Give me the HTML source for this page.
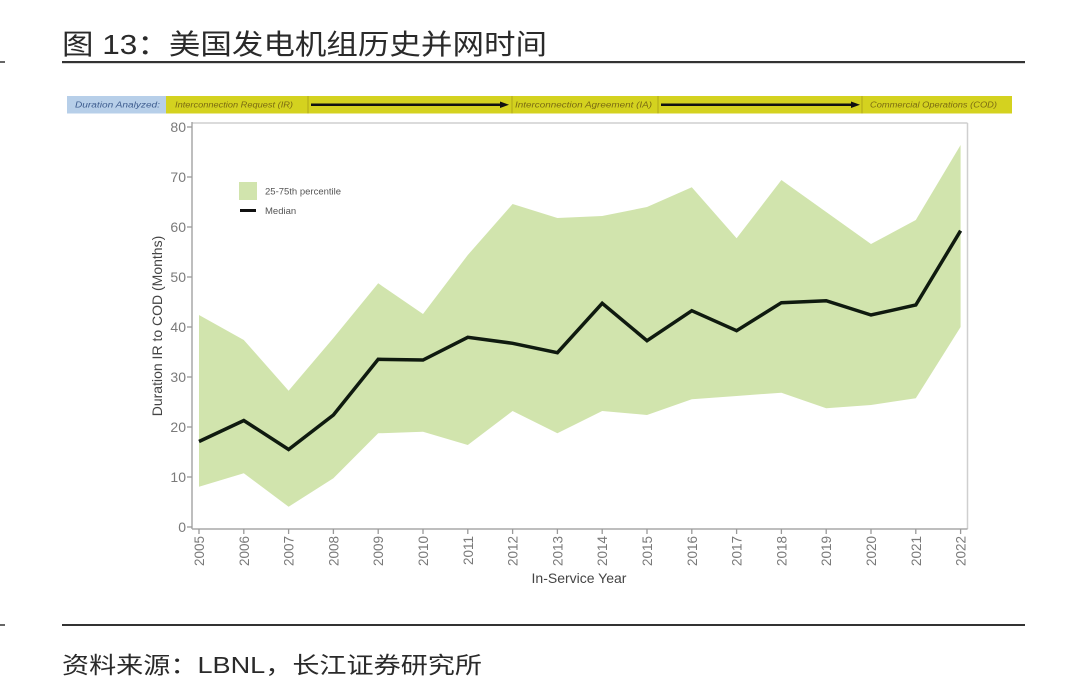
<!DOCTYPE html>
<html><head><meta charset="utf-8"><style>
html,body{margin:0;padding:0;background:#fff;}
svg{display:block;}
</style></head><body>
<svg width="1080" height="697" viewBox="0 0 1080 697" xmlns="http://www.w3.org/2000/svg">
<rect width="1080" height="697" fill="#fff"/>
<!-- header -->
<text x="62" y="54" font-family="Liberation Sans, Noto Sans CJK SC, sans-serif" font-size="28" fill="#2a2a2a" textLength="485" lengthAdjust="spacingAndGlyphs">图 13：美国发电机组历史并网时间</text>
<rect x="62" y="61" width="963" height="2.2" fill="#333"/>
<rect x="0" y="61" width="5" height="2" fill="#666"/>
<!-- banner -->
<rect x="67" y="96" width="99" height="17.5" fill="#b7cfe9"/>
<rect x="166" y="96" width="846" height="17.5" fill="#d4d21f"/>
<g stroke="#b0a818" stroke-width="1">
<line x1="308" y1="96" x2="308" y2="113.5"/>
<line x1="512" y1="96" x2="512" y2="113.5"/>
<line x1="658" y1="96" x2="658" y2="113.5"/>
<line x1="862" y1="96" x2="862" y2="113.5"/>
</g>
<g font-family="Liberation Sans, sans-serif" font-size="8.5" font-style="italic">
<text x="75" y="107.5" fill="#3d5c8e" textLength="85" lengthAdjust="spacingAndGlyphs">Duration Analyzed:</text>
<text x="175" y="107.5" fill="#7a6a12" textLength="118" lengthAdjust="spacingAndGlyphs">Interconnection Request (IR)</text>
<text x="515" y="107.5" fill="#7a6a12" textLength="137" lengthAdjust="spacingAndGlyphs">Interconnection Agreement (IA)</text>
<text x="870" y="107.5" fill="#7a6a12" textLength="127" lengthAdjust="spacingAndGlyphs">Commercial Operations (COD)</text>
</g>
<g stroke="#111" stroke-width="2.5">
<line x1="311" y1="104.8" x2="502" y2="104.8"/>
<line x1="661" y1="104.8" x2="853" y2="104.8"/>
</g>
<polygon points="500,101.5 509,104.8 500,108" fill="#111"/>
<polygon points="851,101.5 860,104.8 851,108" fill="#111"/>
<!-- plot border -->
<line x1="192" y1="123" x2="967.5" y2="123" stroke="#cfcfcf" stroke-width="1.5"/>
<line x1="967.5" y1="123" x2="967.5" y2="529" stroke="#cfcfcf" stroke-width="1.5"/>
<!-- band -->
<polygon fill="#d1e4ad" points="199,315 243.8,340 288.6,390.7 333.4,338 378.2,283.3 423,314 467.8,255 512.6,204 557.4,218 602.2,216 647,207 691.8,187.3 736.6,238.3 781.4,180 826.2,212 871,244 915.8,220 960.6,145 960.6,327 915.8,398.3 871,405 826.2,408.3 781.4,392.7 736.6,396 691.8,399.3 647,415 602.2,411 557.4,433.3 512.6,411 467.8,445 423,431.7 378.2,433.3 333.4,478.3 288.6,506.7 243.8,473.3 199,486.7"/>
<!-- median -->
<polyline fill="none" stroke="#0f1a0f" stroke-width="3.5" stroke-linejoin="miter" points="199,441.5 243.8,420.5 288.6,449.5 333.4,415 378.2,359.3 423,360 467.8,337.3 512.6,343.3 557.4,352.7 602.2,303.3 647,340.7 691.8,310.7 736.6,330.7 781.4,302.7 826.2,300.7 871,315 915.8,305 960.6,230.7"/>
<!-- axes -->
<line x1="192" y1="122" x2="192" y2="529" stroke="#a8a8a8" stroke-width="1.5"/>
<line x1="192" y1="529" x2="967.5" y2="529" stroke="#a8a8a8" stroke-width="1.5"/>
<g stroke="#999" stroke-width="1.3">
<line x1="187" y1="127" x2="192" y2="127"/>
<line x1="187" y1="177" x2="192" y2="177"/>
<line x1="187" y1="227" x2="192" y2="227"/>
<line x1="187" y1="277" x2="192" y2="277"/>
<line x1="187" y1="327" x2="192" y2="327"/>
<line x1="187" y1="377" x2="192" y2="377"/>
<line x1="187" y1="427" x2="192" y2="427"/>
<line x1="187" y1="477" x2="192" y2="477"/>
<line x1="187" y1="527" x2="192" y2="527"/>
</g>
<g font-family="Liberation Sans, sans-serif" font-size="14" fill="#7a7a7a" text-anchor="end">
<text x="186" y="132">80</text>
<text x="186" y="182">70</text>
<text x="186" y="232">60</text>
<text x="186" y="282">50</text>
<text x="186" y="332">40</text>
<text x="186" y="382">30</text>
<text x="186" y="432">20</text>
<text x="186" y="482">10</text>
<text x="186" y="532">0</text>
</g>
<g stroke="#999" stroke-width="1.3">
<line x1="199" y1="529" x2="199" y2="534"/><line x1="243.8" y1="529" x2="243.8" y2="534"/><line x1="288.6" y1="529" x2="288.6" y2="534"/><line x1="333.4" y1="529" x2="333.4" y2="534"/><line x1="378.2" y1="529" x2="378.2" y2="534"/><line x1="423" y1="529" x2="423" y2="534"/><line x1="467.8" y1="529" x2="467.8" y2="534"/><line x1="512.6" y1="529" x2="512.6" y2="534"/><line x1="557.4" y1="529" x2="557.4" y2="534"/><line x1="602.2" y1="529" x2="602.2" y2="534"/><line x1="647" y1="529" x2="647" y2="534"/><line x1="691.8" y1="529" x2="691.8" y2="534"/><line x1="736.6" y1="529" x2="736.6" y2="534"/><line x1="781.4" y1="529" x2="781.4" y2="534"/><line x1="826.2" y1="529" x2="826.2" y2="534"/><line x1="871" y1="529" x2="871" y2="534"/><line x1="915.8" y1="529" x2="915.8" y2="534"/><line x1="960.6" y1="529" x2="960.6" y2="534"/>
</g>
<g font-family="Liberation Sans, sans-serif" font-size="13.5" fill="#7a7a7a" text-anchor="end">
<text transform="translate(204,536) rotate(-90)">2005</text>
<text transform="translate(248.8,536) rotate(-90)">2006</text>
<text transform="translate(293.6,536) rotate(-90)">2007</text>
<text transform="translate(338.4,536) rotate(-90)">2008</text>
<text transform="translate(383.2,536) rotate(-90)">2009</text>
<text transform="translate(428,536) rotate(-90)">2010</text>
<text transform="translate(472.8,536) rotate(-90)">2011</text>
<text transform="translate(517.6,536) rotate(-90)">2012</text>
<text transform="translate(562.4,536) rotate(-90)">2013</text>
<text transform="translate(607.2,536) rotate(-90)">2014</text>
<text transform="translate(652,536) rotate(-90)">2015</text>
<text transform="translate(696.8,536) rotate(-90)">2016</text>
<text transform="translate(741.6,536) rotate(-90)">2017</text>
<text transform="translate(786.4,536) rotate(-90)">2018</text>
<text transform="translate(831.2,536) rotate(-90)">2019</text>
<text transform="translate(876,536) rotate(-90)">2020</text>
<text transform="translate(920.8,536) rotate(-90)">2021</text>
<text transform="translate(965.6,536) rotate(-90)">2022</text>
</g>
<text x="579" y="583" font-family="Liberation Sans, sans-serif" font-size="14" fill="#444" text-anchor="middle">In-Service Year</text>
<text transform="translate(162,326) rotate(-90)" font-family="Liberation Sans, sans-serif" font-size="14" fill="#444" text-anchor="middle">Duration IR to COD (Months)</text>
<!-- legend -->
<rect x="239" y="182" width="18" height="18" fill="#d1e4ad"/>
<line x1="240" y1="210.5" x2="256" y2="210.5" stroke="#111" stroke-width="3"/>
<g font-family="Liberation Sans, sans-serif" font-size="9.5" fill="#555">
<text x="265" y="194.5">25-75th percentile</text>
<text x="265" y="214">Median</text>
</g>
<!-- footer -->
<rect x="62" y="624" width="963" height="2" fill="#333"/>
<rect x="0" y="624" width="5" height="2" fill="#666"/>
<text x="62" y="673" font-family="Liberation Sans, Noto Sans CJK SC, sans-serif" font-size="23" fill="#2a2a2a" textLength="420" lengthAdjust="spacingAndGlyphs">资料来源：LBNL，长江证券研究所</text>
</svg>
</body></html>
